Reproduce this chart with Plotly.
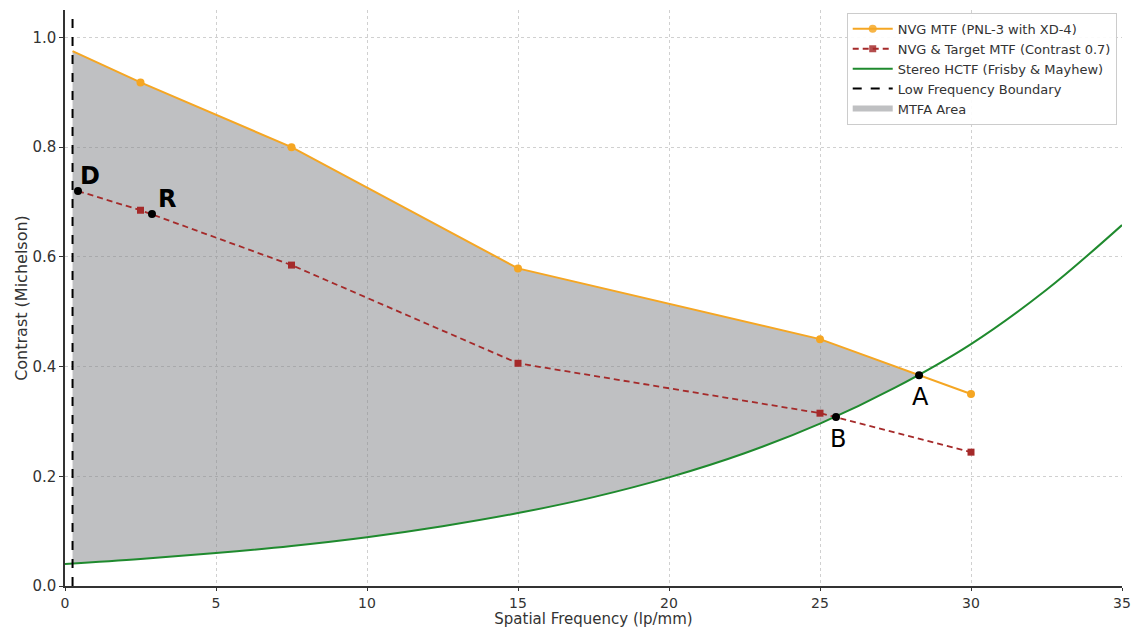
import plotly.graph_objects as go

# ---- data ----
nvg_x = [0.25, 2.5, 7.5, 15, 25, 30]
nvg_y = [0.975, 0.918, 0.800, 0.579, 0.450, 0.350]

tgt_x = [0.43, 2.5, 7.5, 15, 25, 30]
tgt_y = [0.720, 0.685, 0.585, 0.406, 0.315, 0.244]

hctf_x = [0, 2.5, 5, 7.5, 10, 12.5, 15, 17.5, 20, 22.5, 25, 27.5, 30, 32.5, 35]
hctf_y = [0.040, 0.049, 0.060, 0.073, 0.089, 0.109, 0.133, 0.162, 0.198, 0.242,
          0.296, 0.362, 0.441, 0.540, 0.658]

low_freq_x = 0.25

# MTFA area boundaries (between boundary and crossing point A)
area_upper_x = [0.25, 2.5, 7.5, 15, 25, 28.28]
area_upper_y = [0.975, 0.918, 0.800, 0.579, 0.450, 0.384]
area_lower_x = [0.25, 2.5, 5, 7.5, 10, 12.5, 15, 17.5, 20, 22.5, 25, 27.5, 28.28]
area_lower_y = [0.041, 0.049, 0.060, 0.073, 0.089, 0.109, 0.133, 0.162, 0.198,
                0.242, 0.296, 0.362, 0.384]

pt_labels = ["D", "R", "A", "B"]
pt_x = [0.43, 2.88, 28.28, 25.53]
pt_y = [0.720, 0.678, 0.384, 0.308]

ORANGE = "#f5a623"
RED = "#a52a2a"
GREEN = "#1f8a2e"
GRAY = "rgba(128,130,134,0.5)"

fig = go.Figure()

# area fill
fig.add_trace(go.Scatter(x=area_lower_x, y=area_lower_y, mode="lines",
                         line=dict(width=0, shape="spline", color="rgba(0,0,0,0)"),
                         showlegend=False, hoverinfo="skip"))
fig.add_trace(go.Scatter(x=area_upper_x, y=area_upper_y, mode="lines",
                         line=dict(width=0, color="rgba(0,0,0,0)"),
                         fill="tonexty", fillcolor=GRAY,
                         showlegend=False, hoverinfo="skip"))

fig.add_trace(go.Scatter(x=nvg_x, y=nvg_y, mode="lines+markers",
                         name="NVG MTF (PNL-3 with XD-4)",
                         line=dict(color=ORANGE, width=2),
                         marker=dict(symbol="circle", size=8, color=ORANGE,
                                     opacity=[0, 1, 1, 1, 1, 1])))
fig.add_trace(go.Scatter(x=tgt_x, y=tgt_y, mode="lines+markers",
                         name="NVG & Target MTF (Contrast 0.7)",
                         line=dict(color=RED, width=1.8, dash="6px,4px"),
                         marker=dict(symbol="square", size=7, color=RED,
                                     opacity=[0, 1, 1, 1, 1, 1])))
fig.add_trace(go.Scatter(x=hctf_x, y=hctf_y, mode="lines",
                         name="Stereo HCTF (Frisby & Mayhew)",
                         line=dict(color=GREEN, width=2, shape="spline")))
fig.add_trace(go.Scatter(x=[low_freq_x, low_freq_x], y=[0, 1.05], mode="lines",
                         name="Low Frequency Boundary",
                         line=dict(color="black", width=2, dash="dash")))
fig.add_trace(go.Scatter(x=[None, None, None], y=[None, None, None], mode="none",
                         fill="toself", fillcolor=GRAY,
                         name="MTFA Area"))

fig.add_trace(go.Scatter(x=pt_x, y=pt_y, mode="markers",
                         marker=dict(color="black", size=8),
                         showlegend=False, hoverinfo="skip"))

offsets = {"D": (12, -15, True), "R": (15, -15, True),
           "A": (1, 22, False), "B": (2, 22, False)}
for lab, x, y in zip(pt_labels, pt_x, pt_y):
    dx, dy, bold = offsets[lab]
    fig.add_annotation(x=x, y=y, text=f"<b>{lab}</b>" if bold else lab,
                       showarrow=False, xshift=dx, yshift=-dy,
                       font=dict(size=24, color="black", family="DejaVu Sans"))

grid = dict(showgrid=True, gridcolor="#d0d0d0", griddash="dot", gridwidth=1)
fig.update_xaxes(range=[0, 35], tickvals=[0, 5, 10, 15, 20, 25, 30, 35],
                 title=dict(text="Spatial Frequency (lp/mm)", standoff=6,
                            font=dict(size=15)),
                 showline=True, linecolor="#333", linewidth=1.5,
                 ticks="outside", ticklen=3, tickcolor="#333", automargin=False,
                 zeroline=False, tickfont=dict(size=14), **grid)
fig.update_yaxes(range=[0, 1.05], tickvals=[0, 0.2, 0.4, 0.6, 0.8, 1.0],
                 tickformat=".1f",
                 title=dict(text="Contrast (Michelson)", standoff=1,
                            font=dict(size=16)),
                 showline=True, linecolor="#333", linewidth=1.5,
                 ticks="outside", ticklen=4, tickcolor="#333", automargin=False,
                 zeroline=False, tickfont=dict(size=15), **grid)

fig.update_layout(
    width=1137, height=628,
    margin=dict(l=65, r=15, t=10, b=42),
    plot_bgcolor="white", paper_bgcolor="white",
    font=dict(family="DejaVu Sans", color="#333"),
    legend=dict(x=0.995, y=0.995, xanchor="right", yanchor="top",
                traceorder="normal",
                bgcolor="rgba(255,255,255,0.9)", bordercolor="#cccccc",
                borderwidth=1, font=dict(size=13), tracegroupgap=0,
                itemwidth=40),
)

fig.write_html("out.html", config={"displayModeBar": False},
               post_script="document.body.style.margin='0';document.body.style.overflow='hidden';")
